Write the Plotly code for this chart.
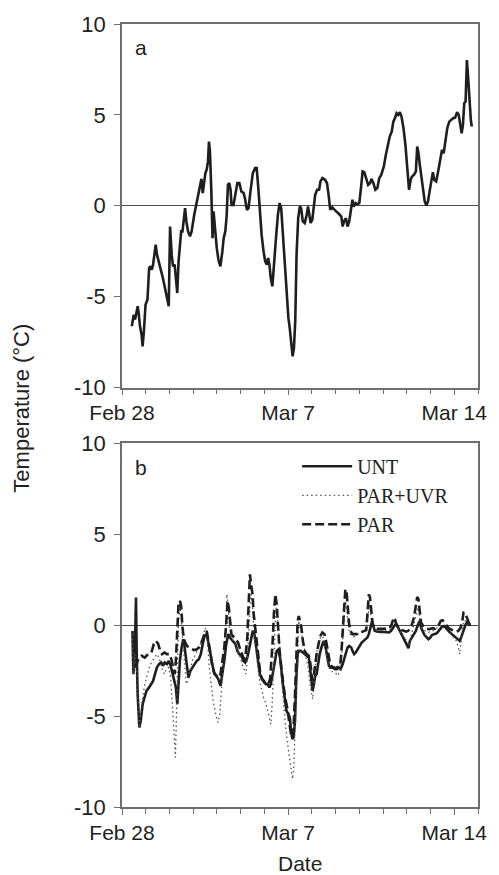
import pandas as pd
import plotly.graph_objects as go

# ---------------- data (days after Feb 28 00:00, temperature in °C) ----------------
a_day = [0.413,0.455,0.496,0.551,0.620,0.661,0.702,0.758,0.826,0.868,0.923,0.992,1.074,1.143,1.198,1.253,1.309,1.364,1.419,1.474,
         1.722,1.970,2.025,2.094,2.149,2.218,2.273,2.328,2.383,2.438,2.493,2.548,2.603,2.658,2.713,2.782,2.865,2.934,3.044,3.127,
         3.209,3.292,3.347,3.402,3.457,3.512,3.567,3.623,3.664,3.705,3.760,3.815,3.857,3.926,3.994,4.063,4.146,4.229,4.284,4.353,
         4.408,4.463,4.518,4.573,4.614,4.697,4.780,4.862,4.945,5.028,5.124,5.179,5.262,5.331,5.413,5.510,5.606,5.675,5.744,5.813,
         5.882,5.964,6.033,6.102,6.157,6.212,6.267,6.336,6.405,6.488,6.570,6.639,6.708,6.763,6.846,6.928,7.011,7.066,7.121,7.190,
         7.245,7.300,7.355,7.424,7.493,7.548,7.617,7.700,7.782,7.837,7.893,7.948,8.017,8.085,8.140,8.223,8.306,8.361,8.444,8.554,
         8.636,8.705,8.774,8.857,8.939,9.022,9.105,9.187,9.242,9.298,9.353,9.435,9.504,9.573,9.642,9.711,9.766,9.848,9.931,10.000,
         10.069,10.138,10.207,10.289,10.372,10.455,10.510,10.592,10.675,10.758,10.840,10.923,11.033,11.116,11.198,11.281,11.364,11.433,11.501,11.570,
         11.639,11.708,11.777,11.860,11.942,12.025,12.094,12.163,12.218,12.300,12.383,12.438,12.493,12.548,12.617,12.686,12.755,12.824,12.893,12.961,
         13.044,13.099,13.154,13.237,13.320,13.402,13.485,13.554,13.623,13.705,13.788,13.871,13.953,14.036,14.118,14.187,14.256,14.311,14.366,14.421,
         14.477,14.532,14.587,14.642,14.697,14.738]
a_temp = [-6.63,-6.36,-5.99,-6.26,-5.81,-5.53,-5.90,-6.63,-7.09,-7.73,-6.90,-5.44,-5.16,-3.42,-3.33,-3.52,-3.24,-2.69,-2.14,-2.69,
          -3.97,-5.53,-1.14,-2.69,-3.33,-3.24,-3.97,-4.80,-3.06,-2.14,-1.41,-1.41,-0.86,-0.13,-0.86,-1.41,-1.68,-1.41,-0.49,0.05,
          0.42,0.97,1.48,0.70,1.34,1.79,1.98,2.44,3.53,2.99,0.97,-1.78,-0.31,-1.59,-2.33,-2.97,-3.33,-2.51,-1.78,-1.41,
          -0.59,1.15,1.25,0.88,0.05,0.05,0.79,1.25,1.25,0.79,0.70,0.42,-0.22,-0.13,0.79,1.79,2.07,2.07,0.97,-0.49,
          -1.59,-2.51,-3.06,-3.24,-2.88,-3.24,-3.97,-4.43,-3.42,-1.78,-0.49,0.15,-0.13,-1.23,-2.88,-4.71,-6.17,-6.72,-7.64,-8.28,
          -7.82,-6.36,-2.69,-0.68,-0.04,-0.13,-0.86,-0.95,-0.49,-0.04,-0.49,-0.95,-0.77,0.05,0.60,0.88,0.88,1.34,1.52,1.43,
          1.25,0.60,-0.22,-0.09,-0.22,-0.31,-0.40,-0.49,-0.59,-1.14,-0.86,-0.68,-1.14,-0.86,-0.31,0.33,-0.04,0.15,0.09,0.15,
          0.97,1.89,1.85,1.52,1.15,1.25,1.48,1.25,0.88,0.97,1.52,1.70,2.16,2.80,3.35,3.81,4.08,4.63,4.82,5.09,
          5.00,5.15,4.91,4.27,3.35,1.89,0.88,1.43,1.61,1.70,1.89,3.26,2.89,2.25,1.52,0.79,0.24,0.02,0.24,0.79,
          1.61,1.85,1.43,1.34,1.89,2.53,3.08,2.89,3.53,4.27,4.63,4.73,4.82,4.85,5.15,5.00,4.45,3.99,4.45,5.64,
          5.73,8.02,7.01,5.55,4.73,4.36]

unt_day = [0.44,0.48,0.54,0.59,0.62,0.66,0.73,0.79,0.87,0.94,1.03,1.14,1.24,1.31,1.39,1.47,1.56,1.65,1.72,1.80,
           1.89,1.97,2.05,2.13,2.22,2.27,2.33,2.37,2.44,2.51,2.58,2.64,2.73,2.80,2.88,2.96,3.06,3.15,3.24,3.32,
           3.40,3.48,3.57,3.65,3.73,3.80,3.88,3.97,4.06,4.15,4.23,4.31,4.39,4.48,4.55,4.61,4.70,4.78,4.86,4.94,
           5.03,5.11,5.19,5.28,5.37,5.44,5.51,5.58,5.65,5.73,5.81,5.90,5.98,6.06,6.13,6.21,6.27,6.35,6.43,6.52,
           6.60,6.68,6.76,6.85,6.93,7.01,7.07,7.12,7.18,7.23,7.29,7.34,7.40,7.45,7.53,7.62,7.70,7.78,7.87,7.92,
           7.98,8.03,8.09,8.14,8.20,8.26,8.33,8.42,8.50,8.58,8.65,8.72,8.80,8.88,8.97,9.05,9.13,9.21,9.30,9.38,
           9.44,9.50,9.57,9.66,9.71,9.78,9.85,9.93,10.01,10.10,10.18,10.26,10.34,10.40,10.48,10.54,10.59,10.65,10.73,10.81,
           10.92,11.03,11.14,11.25,11.34,11.42,11.50,11.58,11.67,11.75,11.83,11.91,12.00,12.07,12.13,12.22,12.30,12.38,12.47,12.55,
           12.60,12.67,12.74,12.82,12.91,12.99,13.07,13.15,13.24,13.32,13.40,13.48,13.57,13.65,13.73,13.82,13.90,13.98,14.06,14.15,
           14.23,14.31,14.39,14.48,14.53,14.61,14.70]
unt_temp = [-0.31,-2.69,-1.59,1.52,-1.59,-3.79,-5.62,-5.26,-4.34,-3.97,-3.61,-3.42,-3.24,-3.06,-2.69,-2.33,-2.14,-2.05,-2.23,-2.05,
            -2.14,-1.96,-2.23,-2.69,-3.06,-3.42,-4.34,-3.24,-1.96,-1.23,-0.77,-1.23,-2.33,-2.88,-2.51,-2.33,-2.14,-1.96,-1.87,-1.59,
            -1.04,-0.59,-0.49,-0.95,-1.59,-2.14,-2.60,-2.78,-2.97,-3.33,-2.69,-1.96,-1.04,-0.49,-0.68,-0.77,-0.86,-1.04,-1.41,-1.59,
            -1.68,-1.96,-2.05,-1.78,-1.23,-0.68,-0.31,-0.49,-1.23,-2.14,-2.69,-2.97,-3.06,-3.24,-3.24,-3.42,-3.24,-2.69,-1.96,-1.41,
            -1.32,-1.96,-3.06,-3.97,-4.71,-4.89,-5.07,-5.81,-6.26,-6.17,-5.26,-3.06,-1.59,-1.41,-1.41,-1.50,-1.59,-1.68,-1.78,-2.33,
            -2.88,-3.61,-3.24,-2.78,-2.69,-2.14,-1.59,-1.14,-0.86,-1.23,-1.78,-2.23,-2.33,-2.33,-2.42,-2.42,-2.33,-2.42,-2.14,-1.78,
            -1.41,-1.23,-1.14,-1.23,-1.41,-1.59,-1.50,-1.32,-1.14,-0.95,-0.86,-0.77,-0.68,-0.49,-0.13,0.24,-0.04,-0.31,-0.35,-0.37,
            -0.37,-0.37,-0.38,-0.40,-0.31,-0.13,0.02,0.02,-0.22,-0.49,-0.68,-0.86,-1.14,-1.26,-0.86,-0.68,-0.49,-0.31,0.02,0.24,
            -0.13,-0.35,-0.53,-0.64,-0.77,-0.68,-0.53,-0.49,-0.46,-0.35,-0.22,-0.09,-0.04,-0.16,-0.31,-0.40,-0.49,-0.59,-0.68,-0.77,
            -0.86,-0.59,-0.22,0.05,0.15,0.02,0.05]

uvr_day = [0.44,0.48,0.54,0.66,0.73,0.79,0.87,0.96,1.06,1.17,1.28,1.38,1.47,1.56,1.67,1.78,1.86,1.97,2.05,2.13,
           2.19,2.25,2.29,2.33,2.38,2.44,2.49,2.55,2.63,2.71,2.77,2.85,2.96,3.10,3.24,3.37,3.51,3.60,3.68,3.76,
           3.84,3.95,4.04,4.12,4.20,4.28,4.37,4.42,4.48,4.53,4.61,4.72,4.83,4.94,5.06,5.17,5.22,5.28,5.33,5.39,
           5.44,5.50,5.55,5.63,5.72,5.80,5.88,5.96,6.05,6.13,6.21,6.27,6.32,6.38,6.43,6.49,6.54,6.63,6.71,6.79,
           6.87,6.96,7.04,7.12,7.18,7.23,7.29,7.34,7.40,7.45,7.51,7.59,7.67,7.75,7.84,7.92,7.98,8.03,8.09,8.14,
           8.22,8.31,8.39,8.47,8.55,8.64,8.72,8.80,8.91,9.02,9.10,9.19,9.27,9.35,9.41,9.46,9.52,9.60,9.77,9.96,
           10.18,10.29,10.37,10.43,10.48,10.54,10.62,10.90,11.17,11.31,11.42,11.50,11.58,11.67,11.78,11.89,12.00,12.08,12.16,12.25,
           12.33,12.41,12.47,12.52,12.58,12.66,12.88,13.10,13.29,13.46,13.54,13.76,13.98,14.09,14.17,14.23,14.28,14.34,14.39,14.48,
           14.56,14.67]
uvr_temp = [-0.49,-2.69,-1.59,-3.06,-5.62,-4.89,-3.97,-3.24,-2.69,-2.23,-1.96,-1.78,-1.59,-1.78,-2.33,-2.69,-2.42,-2.33,-2.88,-4.52,
            -6.17,-7.27,-5.26,-2.51,0.24,0.97,0.60,-0.68,-2.14,-3.24,-3.06,-2.51,-1.96,-1.59,-1.23,-0.86,-0.13,-0.86,-2.33,-3.42,
            -4.16,-4.89,-5.35,-4.89,-3.42,-1.96,-0.13,1.70,0.97,-0.13,-0.68,-0.95,-1.23,-1.59,-2.14,-2.51,-2.69,-1.96,-0.49,0.97,
            1.70,0.97,-0.13,-1.23,-2.33,-3.06,-3.61,-3.97,-4.25,-4.71,-5.26,-5.44,-4.52,-2.69,-0.49,0.97,0.60,-0.86,-2.69,-4.16,
            -5.26,-6.36,-7.09,-7.82,-8.46,-8.00,-5.81,-3.06,-0.86,0.24,-0.13,-0.68,-1.23,-1.59,-2.33,-3.24,-3.79,-4.07,-3.42,-2.33,
            -1.41,-0.86,-0.59,-0.68,-1.23,-1.78,-2.33,-2.51,-2.60,-2.66,-2.78,-2.42,-1.41,0.05,1.34,0.97,0.05,-0.49,-0.64,-0.49,
            -0.31,-0.22,0.60,1.15,0.60,0.05,-0.22,-0.27,-0.27,-0.22,0.05,0.24,-0.04,-0.31,-0.49,-0.68,-0.86,-1.14,-0.68,-0.31,
            0.15,0.60,0.97,0.60,-0.04,-0.22,-0.40,-0.31,-0.16,0.02,-0.13,-0.35,-0.68,-0.86,-1.23,-1.59,-1.04,-0.31,0.24,0.24,
            0.05,0.02]

par_day = [0.55,0.69,0.83,0.96,1.10,1.24,1.34,1.42,1.52,1.61,1.69,1.79,1.89,2.00,2.08,2.16,2.22,2.27,2.33,2.38,
           2.44,2.49,2.55,2.60,2.66,2.74,2.82,2.93,3.04,3.15,3.24,3.32,3.40,3.48,3.57,3.65,3.73,3.82,3.90,3.98,
           4.06,4.15,4.23,4.31,4.39,4.45,4.50,4.56,4.61,4.70,4.78,4.89,5.00,5.11,5.19,5.28,5.33,5.39,5.44,5.50,
           5.55,5.61,5.66,5.74,5.83,5.91,5.99,6.07,6.16,6.24,6.29,6.35,6.40,6.46,6.52,6.57,6.63,6.71,6.79,6.87,
           6.96,7.04,7.12,7.18,7.23,7.29,7.34,7.40,7.45,7.51,7.56,7.62,7.70,7.78,7.87,7.92,7.98,8.03,8.09,8.14,
           8.20,8.28,8.36,8.44,8.53,8.61,8.69,8.77,8.86,8.94,9.02,9.10,9.19,9.24,9.30,9.35,9.41,9.46,9.52,9.57,
           9.63,9.71,9.88,10.04,10.21,10.29,10.34,10.40,10.45,10.51,10.56,10.65,10.81,11.03,11.28,11.36,11.45,11.50,11.56,11.64,
           11.72,11.80,11.97,12.05,12.13,12.22,12.30,12.38,12.44,12.49,12.55,12.60,12.69,12.77,12.94,13.10,13.18,13.26,13.35,13.43,
           13.51,13.59,13.68,13.76,13.92,14.09,14.17,14.26,14.34,14.39,14.45,14.50,14.56,14.64,14.70]
par_temp = [-2.33,-1.87,-1.68,-1.78,-1.59,-1.50,-1.04,-0.86,-1.01,-1.41,-1.59,-1.50,-1.59,-1.59,-1.87,-2.33,-2.69,-1.96,-0.13,1.15,
            1.34,1.06,-0.13,-0.68,-0.95,-1.14,-1.23,-1.32,-1.37,-1.32,-1.23,-1.04,-0.77,-0.49,-0.31,-0.86,-1.59,-2.33,-2.69,-2.78,
            -2.88,-2.69,-1.96,-1.23,0.05,1.34,0.97,-0.13,-0.49,-0.64,-0.77,-0.95,-1.41,-1.78,-1.87,-0.68,0.97,2.80,2.25,1.70,
            0.60,-0.13,-0.86,-1.96,-2.69,-2.97,-3.15,-3.24,-3.24,-2.97,-2.14,-0.86,0.60,1.70,1.15,-0.13,-1.23,-2.33,-3.24,-3.97,
            -4.52,-5.16,-5.99,-6.17,-5.62,-3.79,-1.59,0.24,0.51,0.24,-0.13,-0.86,-1.41,-1.59,-1.68,-1.96,-2.51,-3.06,-2.69,-2.14,
            -1.59,-1.04,-0.59,-0.40,-0.49,-0.95,-1.59,-2.14,-2.29,-2.33,-2.36,-2.29,-2.23,-1.59,-0.31,0.97,1.98,1.89,0.97,0.05,
            -0.31,-0.49,-0.49,-0.42,-0.31,-0.27,0.60,1.70,1.52,0.60,0.05,-0.16,-0.20,-0.20,-0.16,0.05,0.42,0.33,0.05,-0.13,
            -0.22,-0.27,-0.35,-0.31,-0.22,0.05,0.42,1.15,1.56,1.43,0.79,0.15,-0.04,-0.16,-0.22,-0.16,-0.20,-0.13,0.02,0.24,
            0.27,0.15,-0.04,-0.16,-0.27,-0.35,-0.31,-0.16,0.24,0.70,0.70,0.51,0.24,0.05,0.15]

tick_days = [0, 7, 14]
tick_text = ["Feb 28", "Mar 7", "Mar 14"]
y_ticks = [-10, -5, 0, 5, 10]

base = pd.Timestamp("2007-02-28")
def to_dt(days):
    return base + pd.to_timedelta(days, unit="D")

SANS = "Liberation Sans, Arial, sans-serif"
SERIF = "Liberation Serif, Times New Roman, serif"
AX = "#6e6e6e"
LINE = "#1e1e1e"
TXT = "#222222"

fig = go.Figure()
fig.add_trace(go.Scatter(x=to_dt(a_day), y=a_temp, mode="lines", showlegend=False,
                         line=dict(color=LINE, width=2.6), xaxis="x", yaxis="y"))
fig.add_trace(go.Scatter(x=to_dt(unt_day), y=unt_temp, mode="lines", name="UNT",
                         line=dict(color=LINE, width=2.6), xaxis="x2", yaxis="y2"))
fig.add_trace(go.Scatter(x=to_dt(uvr_day), y=uvr_temp, mode="lines", name="PAR+UVR",
                         line=dict(color="#555555", width=1.3, dash="1.5px,3px"), xaxis="x2", yaxis="y2"))
fig.add_trace(go.Scatter(x=to_dt(par_day), y=par_temp, mode="lines", name="PAR",
                         line=dict(color=LINE, width=2.6, dash="9px,4px"), xaxis="x2", yaxis="y2"))

xa = dict(range=[to_dt(0), to_dt(15)], tickvals=to_dt(tick_days), ticktext=tick_text,
          showgrid=False, zeroline=False, showline=True, linecolor=AX, linewidth=1.5, mirror=True,
          ticks="outside", ticklen=6, tickwidth=1.3, tickcolor=AX, ticklabelstandoff=0,
          tickfont=dict(family=SANS, size=21, color=TXT),
          minor=dict(ticks="outside", dtick=86400000, tick0=to_dt(0), ticklen=5, tickwidth=1.1, tickcolor=AX, showgrid=False))
ya = dict(range=[-10, 10], tickvals=y_ticks, ticktext=[str(v) for v in y_ticks],
          showgrid=False, zeroline=True, zerolinecolor="#4a4a4a", zerolinewidth=1.2,
          showline=True, linecolor=AX, linewidth=1.5, mirror=True,
          ticks="outside", ticklen=6, tickwidth=1.3, tickcolor=AX, ticklabelstandoff=4,
          tickfont=dict(family=SANS, size=22, color=TXT))

fig.update_layout(
    width=499, height=875,
    margin=dict(l=122, r=14, t=23, b=68),
    paper_bgcolor="white", plot_bgcolor="white",
    xaxis=dict(xa, anchor="y"),
    yaxis=dict(ya, anchor="x", domain=[0.5357, 1]),
    xaxis2=dict(xa, anchor="y2"),
    yaxis2=dict(ya, anchor="x2", domain=[0, 0.4643]),
    legend=dict(x=0.492, y=0.46, xanchor="left", yanchor="top", bgcolor="rgba(0,0,0,0)",
                font=dict(family=SERIF, size=20, color=TXT), itemwidth=50, tracegroupgap=0),
    annotations=[
        dict(text="a", xref="x domain", yref="y domain", x=0.03, y=0.935, showarrow=False,
             xanchor="left", yanchor="middle", font=dict(family=SANS, size=21, color=TXT)),
        dict(text="b", xref="x2 domain", yref="y2 domain", x=0.03, y=0.935, showarrow=False,
             xanchor="left", yanchor="middle", font=dict(family=SANS, size=21, color=TXT)),
        dict(text="Temperature (°C)", xref="paper", yref="paper", x=-0.281, y=0.51, textangle=-90,
             showarrow=False, xanchor="center", yanchor="middle", font=dict(family=SANS, size=22, color=TXT)),
        dict(text="Date", xref="paper", yref="paper", x=0.5, y=0.0, yshift=-56, showarrow=False,
             xanchor="center", yanchor="middle", font=dict(family=SANS, size=21, color=TXT)),
    ],
)

fig.write_html("out.html")
